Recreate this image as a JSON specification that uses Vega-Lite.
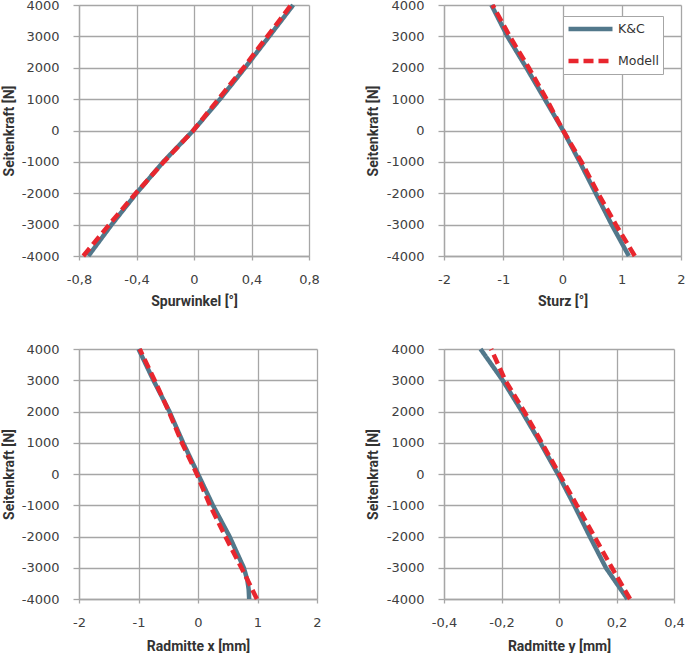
{
  "$schema": "https://vega.github.io/schema/vega-lite/v6.json",
  "padding": {"left": 2, "top": -4, "right": 0, "bottom": 0},
  "background": "white",
  "datasets": {
    "tl": [
      {"s": "K&C", "F": -4000, "x": -0.735}, {"s": "K&C", "F": -3000, "x": -0.573}, {"s": "K&C", "F": -2000, "x": -0.4}, {"s": "K&C", "F": -1000, "x": -0.214}, {"s": "K&C", "F": 0, "x": -0.005}, {"s": "K&C", "F": 1000, "x": 0.181}, {"s": "K&C", "F": 2000, "x": 0.355}, {"s": "K&C", "F": 3000, "x": 0.523}, {"s": "K&C", "F": 4000, "x": 0.69},
      {"s": "Modell", "F": -4000, "x": -0.77}, {"s": "Modell", "F": -3000, "x": -0.59}, {"s": "Modell", "F": -2000, "x": -0.405}, {"s": "Modell", "F": -1000, "x": -0.21}, {"s": "Modell", "F": 0, "x": -0.005}, {"s": "Modell", "F": 1000, "x": 0.17}, {"s": "Modell", "F": 2000, "x": 0.345}, {"s": "Modell", "F": 3000, "x": 0.51}, {"s": "Modell", "F": 4000, "x": 0.675}
    ],
    "tr": [
      {"s": "K&C", "F": -4000, "x": 1.12}, {"s": "K&C", "F": -3000, "x": 0.83}, {"s": "K&C", "F": -2000, "x": 0.56}, {"s": "K&C", "F": -1000, "x": 0.29}, {"s": "K&C", "F": 0, "x": 0.01}, {"s": "K&C", "F": 1000, "x": -0.3}, {"s": "K&C", "F": 2000, "x": -0.61}, {"s": "K&C", "F": 3000, "x": -0.93}, {"s": "K&C", "F": 4000, "x": -1.2},
      {"s": "Modell", "F": -4000, "x": 1.22}, {"s": "Modell", "F": -3000, "x": 0.9}, {"s": "Modell", "F": -2000, "x": 0.6}, {"s": "Modell", "F": -1000, "x": 0.32}, {"s": "Modell", "F": 0, "x": 0.01}, {"s": "Modell", "F": 1000, "x": -0.27}, {"s": "Modell", "F": 2000, "x": -0.57}, {"s": "Modell", "F": 3000, "x": -0.89}, {"s": "Modell", "F": 4000, "x": -1.18}
    ],
    "bl": [
      {"s": "K&C", "F": -4000, "x": 0.86}, {"s": "K&C", "F": -3700, "x": 0.852}, {"s": "K&C", "F": -3400, "x": 0.83}, {"s": "K&C", "F": -3000, "x": 0.77}, {"s": "K&C", "F": -2000, "x": 0.53}, {"s": "K&C", "F": -1000, "x": 0.25}, {"s": "K&C", "F": 0, "x": 0.0}, {"s": "K&C", "F": 1000, "x": -0.25}, {"s": "K&C", "F": 2000, "x": -0.48}, {"s": "K&C", "F": 3000, "x": -0.75}, {"s": "K&C", "F": 4000, "x": -1.0},
      {"s": "Modell", "F": -4000, "x": 0.99}, {"s": "Modell", "F": -3000, "x": 0.73}, {"s": "Modell", "F": -2000, "x": 0.46}, {"s": "Modell", "F": -1000, "x": 0.2}, {"s": "Modell", "F": 0, "x": -0.02}, {"s": "Modell", "F": 1000, "x": -0.27}, {"s": "Modell", "F": 2000, "x": -0.49}, {"s": "Modell", "F": 3000, "x": -0.73}, {"s": "Modell", "F": 4000, "x": -0.98}
    ],
    "br": [
      {"s": "K&C", "F": -4000, "x": 0.238}, {"s": "K&C", "F": -3000, "x": 0.163}, {"s": "K&C", "F": -2000, "x": 0.107}, {"s": "K&C", "F": -1000, "x": 0.053}, {"s": "K&C", "F": 0, "x": -0.004}, {"s": "K&C", "F": 1000, "x": -0.065}, {"s": "K&C", "F": 2000, "x": -0.129}, {"s": "K&C", "F": 3000, "x": -0.196}, {"s": "K&C", "F": 4000, "x": -0.273},
      {"s": "Modell", "F": -4000, "x": 0.247}, {"s": "Modell", "F": -3000, "x": 0.184}, {"s": "Modell", "F": -2000, "x": 0.123}, {"s": "Modell", "F": -1000, "x": 0.062}, {"s": "Modell", "F": 0, "x": 0.001}, {"s": "Modell", "F": 1000, "x": -0.06}, {"s": "Modell", "F": 2000, "x": -0.121}, {"s": "Modell", "F": 3000, "x": -0.187}, {"s": "Modell", "F": 4000, "x": -0.236}
    ]
  },
  "config": {
    "view": {"stroke": null},
    "axis": {
      "grid": true, "gridColor": "#a6a6a6", "gridWidth": 1.3, "gridOpacity": 1,
      "domainColor": "#a6a6a6", "domainWidth": 1.3,
      "tickColor": "#a6a6a6", "tickWidth": 1.3,
      "labelFont": "DejaVu Sans", "labelFontSize": 13, "labelColor": "#404040",
      "labelFlush": false, "labelOverlap": false,
      "titleFont": "Roboto", "titleFontWeight": "bold", "titleFontSize": 14, "titleColor": "#333333"
    },
    "axisX": {"tickSize": 4, "labelPadding": 13, "titlePadding": 8},
    "axisY": {"tickSize": 6, "labelPadding": 14, "titlePadding": 5},
    "line": {"strokeWidth": 4.5}
  },
  "resolve": {"scale": {"x": "independent", "y": "independent", "color": "independent", "strokeDash": "independent"}, "legend": {"color": "independent", "strokeDash": "independent"}},
  "bounds": "flush",
  "columns": 2,
  "spacing": {"row": 93, "column": 127},
  "concat": [
    {
      "width": 230, "height": 251,
      "data": {"name": "tl"},
      "mark": {"type": "line", "strokeWidth": 4.5},
      "encoding": {
        "x": {"field": "x", "type": "quantitative", "scale": {"domain": [-0.8, 0.8], "nice": false, "zero": false}, "axis": {"values": [-0.8, -0.4, 0, 0.4, 0.8], "title": "Spurwinkel [°]", "labelExpr": "replace(toString(datum.value), '.', ',')"}},
        "y": {"field": "F", "type": "quantitative", "scale": {"domain": [-4000, 4000], "nice": false}, "axis": {"values": [-4000, -3000, -2000, -1000, 0, 1000, 2000, 3000, 4000], "title": "Seitenkraft [N]", "labelExpr": "toString(datum.value)"}},
        "order": {"field": "F", "type": "quantitative"},
        "color": {"field": "s", "type": "nominal", "scale": {"domain": ["K&C", "Modell"], "range": ["#52788b", "#e8262e"]}, "legend": null},
        "strokeDash": {"field": "s", "type": "nominal", "scale": {"domain": ["K&C", "Modell"], "range": [[1, 0], [10, 5]]}, "legend": null}
      }
    },
    {
      "width": 237, "height": 251,
      "data": {"name": "tr"},
      "mark": {"type": "line", "strokeWidth": 4.5},
      "encoding": {
        "x": {"field": "x", "type": "quantitative", "scale": {"domain": [-2, 2], "nice": false, "zero": false}, "axis": {"values": [-2, -1, 0, 1, 2], "title": "Sturz [°]", "labelExpr": "replace(toString(datum.value), '.', ',')"}},
        "y": {"field": "F", "type": "quantitative", "scale": {"domain": [-4000, 4000], "nice": false}, "axis": {"values": [-4000, -3000, -2000, -1000, 0, 1000, 2000, 3000, 4000], "title": "Seitenkraft [N]", "labelExpr": "toString(datum.value)", "titlePadding": 6}},
        "order": {"field": "F", "type": "quantitative"},
        "color": {"field": "s", "type": "nominal", "scale": {"domain": ["K&C", "Modell"], "range": ["#52788b", "#e8262e"]},
          "legend": {"orient": "none", "legendX": 119, "legendY": 11, "title": null, "symbolType": "stroke", "symbolSize": 1936, "symbolStrokeWidth": 4.5, "clipHeight": 20, "labelFont": "DejaVu Sans", "labelFontSize": 12.5, "labelColor": "#333333", "padding": 3, "rowPadding": 12, "strokeColor": "#a6a6a6", "fillColor": "white", "labelOffset": 3, "labelExpr": "datum.label + ' '"}},
        "strokeDash": {"field": "s", "type": "nominal", "scale": {"domain": ["K&C", "Modell"], "range": [[1, 0], [10, 5]]},
          "legend": {"orient": "none", "legendX": 119, "legendY": 11, "title": null, "symbolType": "stroke", "symbolSize": 1936, "symbolStrokeWidth": 4.5, "clipHeight": 20, "labelFont": "DejaVu Sans", "labelFontSize": 12.5, "labelColor": "#333333", "padding": 3, "rowPadding": 12, "strokeColor": "#a6a6a6", "fillColor": "white", "labelOffset": 3, "labelExpr": "datum.label + ' '"}}
      }
    },
    {
      "width": 238, "height": 250,
      "data": {"name": "bl"},
      "mark": {"type": "line", "strokeWidth": 4.5},
      "encoding": {
        "x": {"field": "x", "type": "quantitative", "scale": {"domain": [-2, 2], "nice": false, "zero": false}, "axis": {"values": [-2, -1, 0, 1, 2], "title": "Radmitte x [mm]", "labelExpr": "replace(toString(datum.value), '.', ',')", "titlePadding": 10}},
        "y": {"field": "F", "type": "quantitative", "scale": {"domain": [-4000, 4000], "nice": false}, "axis": {"values": [-4000, -3000, -2000, -1000, 0, 1000, 2000, 3000, 4000], "title": "Seitenkraft [N]", "labelExpr": "toString(datum.value)"}},
        "order": {"field": "F", "type": "quantitative"},
        "color": {"field": "s", "type": "nominal", "scale": {"domain": ["K&C", "Modell"], "range": ["#52788b", "#e8262e"]}, "legend": null},
        "strokeDash": {"field": "s", "type": "nominal", "scale": {"domain": ["K&C", "Modell"], "range": [[1, 0], [10, 5]]}, "legend": null}
      }
    },
    {
      "width": 230, "height": 250,
      "data": {"name": "br"},
      "mark": {"type": "line", "strokeWidth": 4.5},
      "encoding": {
        "x": {"field": "x", "type": "quantitative", "scale": {"domain": [-0.4, 0.4], "nice": false, "zero": false}, "axis": {"values": [-0.4, -0.2, 0, 0.2, 0.4], "title": "Radmitte y [mm]", "labelExpr": "replace(toString(datum.value), '.', ',')", "titlePadding": 10}},
        "y": {"field": "F", "type": "quantitative", "scale": {"domain": [-4000, 4000], "nice": false}, "axis": {"values": [-4000, -3000, -2000, -1000, 0, 1000, 2000, 3000, 4000], "title": "Seitenkraft [N]", "labelExpr": "toString(datum.value)", "titlePadding": 6}},
        "order": {"field": "F", "type": "quantitative"},
        "color": {"field": "s", "type": "nominal", "scale": {"domain": ["K&C", "Modell"], "range": ["#52788b", "#e8262e"]}, "legend": null},
        "strokeDash": {"field": "s", "type": "nominal", "scale": {"domain": ["K&C", "Modell"], "range": [[1, 0], [10, 5]]}, "legend": null}
      }
    }
  ]
}
